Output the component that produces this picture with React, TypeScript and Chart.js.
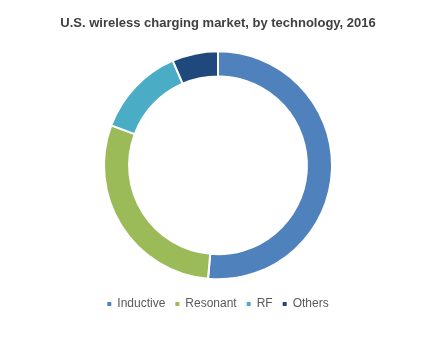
import React, { useEffect, useRef } from "react";
import { Chart, registerables } from "chart.js";

Chart.register(...registerables);

const titleText = "U.S. wireless charging market, by technology, 2016";
const categories = ["Inductive", "Resonant", "RF", "Others"];
const shares = [51.4, 29.3, 12.8, 6.5];
const colors = ["#4F81BD", "#9BBB59", "#4BACC6", "#1F497D"];

export default function App() {
  const ref = useRef<HTMLCanvasElement>(null);
  useEffect(() => {
    if (!ref.current) return;
    const chart = new Chart(ref.current, {
      type: "doughnut",
      data: {
        labels: categories,
        datasets: [
          {
            data: shares,
            backgroundColor: colors,
            borderColor: "#ffffff",
            borderWidth: 2,
            radius: 114,
          },
        ],
      },
      options: {
        responsive: false,
        animation: false,
        cutout: "78%",
        layout: { padding: { left: 0, right: 5, top: 0, bottom: 17 } },
        plugins: {
          title: {
            display: true,
            text: titleText,
            color: "#404040",
            font: { family: "Arial, 'Liberation Sans', sans-serif", size: 13, weight: "bold", lineHeight: 1.2 },
            padding: { top: 16, bottom: 11 },
          },
          legend: {
            display: true,
            position: "bottom",
            labels: {
              color: "#595959",
              font: { family: "Arial, 'Liberation Sans', sans-serif", size: 12 },
              boxWidth: 4,
              boxHeight: 4,
              padding: 10,
              generateLabels: (c: any) =>
                categories.map((name, i) => ({
                  text: name,
                  fillStyle: colors[i],
                  strokeStyle: colors[i],
                  lineWidth: 0,
                  fontColor: "#595959",
                  hidden: false,
                  index: i,
                })),
            },
          },
          tooltip: { enabled: false },
        },
      },
    });
    return () => chart.destroy();
  }, []);
  return (
    <canvas
      ref={ref}
      width={441}
      height={337}
      style={{ position: "fixed", left: 0, top: 0, display: "block", background: "#fff" }}
    />
  );
}
